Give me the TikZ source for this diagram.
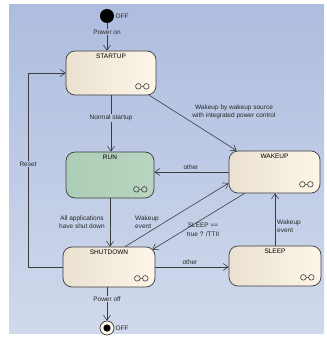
\documentclass[tikz,border=0pt]{standalone}
\usepackage{fontspec}
\setmainfont{Liberation Sans}
\usetikzlibrary{arrows.meta}

\definecolor{bgtop}{RGB}{174,189,223}
\definecolor{bgbot}{RGB}{208,217,236}
\definecolor{edgegray}{RGB}{60,60,60}
\definecolor{beigeL}{RGB}{234,225,209}
\definecolor{beigeR}{RGB}{253,246,232}
\definecolor{runL}{RGB}{172,205,182}
\definecolor{runR}{RGB}{184,213,192}

\tikzset{
  statebox/.style={draw=edgegray, line width=0.7pt, rounded corners=9pt,
    left color=beigeL, right color=beigeR, inner sep=0pt},
  title/.style={anchor=north, yshift=-2.5pt, inner sep=1pt,
    font=\fontsize{6.5}{7.5}\selectfont},
  lbl/.style={inner sep=1pt, align=center, text=black!85,
    font=\fontsize{6.5}{8.5}\selectfont},
  trans/.style={draw=edgegray, line width=0.6pt, ->},
  ringline/.style={draw=edgegray, line width=0.6pt},
}

% small twin ring icon in the lower right corner of a state
\newcommand{\twinrings}[1]{%
  \draw[ringline] ([xshift=-18pt,yshift=9pt]#1.south east) circle (2.8pt)
    ([xshift=-10pt,yshift=9pt]#1.south east) circle (2.8pt)
    ([xshift=-15.2pt,yshift=9pt]#1.south east) -- ([xshift=-12.8pt,yshift=9pt]#1.south east);}

\begin{document}
\begin{tikzpicture}[x=1pt,y=-1pt,>={Straight Barb[length=5pt,width=7pt]}]
    \useasboundingbox (0,0) rectangle (326,342);
    \fill[white] (0,0) rectangle (326,342);
    \shade[top color=bgtop,bottom color=bgbot] (9,5) rectangle (324,333);

    % states
    \node[statebox, minimum width=90pt, minimum height=44pt,
      label={[title]north:STARTUP}] (startup) at (111,73) {};
    \node[statebox, minimum width=88pt, minimum height=46pt,
      left color=runL, right color=runR,
      label={[title]north:RUN}] (run) at (110,175) {};
    \node[statebox, minimum width=92pt, minimum height=40pt,
      label={[title]north:SHUTDOWN}] (shutdown) at (109,267) {};
    \node[statebox, minimum width=91pt, minimum height=42pt,
      label={[title]north:WAKEUP}] (wakeup) at (274.5,172) {};
    \node[statebox, minimum width=92pt, minimum height=40pt,
      label={[title]north:SLEEP}] (sleep) at (275,266) {};

    \twinrings{startup}
    \twinrings{run}
    \twinrings{shutdown}
    \twinrings{wakeup}
    \twinrings{sleep}

    % initial and final
    \node[circle, fill=black, minimum size=14pt, inner sep=0pt] (init) at (107,16) {};
    \node[lbl, anchor=west] (offtop) at (114.5,16) {OFF};
    \node[circle, draw=edgegray, line width=0.7pt, fill=beigeR, minimum size=14pt,
      inner sep=0pt] (final) at (107,328) {};
    \fill[black] (final) circle (3.6pt);
    \node[lbl, anchor=west] (offbot) at (114.5,328) {OFF};

    % transitions
    \draw[trans] (init) -- (init |- startup.north)
      node[lbl, pos=0.32, fill=bgbot!8!bgtop] (lpoweron) {Power on};
    \draw[trans] (startup.south) -- (startup.south |- run.north)
      node[lbl, pos=0.4, fill=bgbot!34!bgtop] (lnormal) {Normal startup};
    \draw[trans] ([xshift=-7pt]startup.south east) -- ([xshift=8pt]wakeup.north west);
    \node[lbl] (lwakesrc) at (234,112) {Wakeup by wakeup source\\with integrated power control};

    \draw[trans] (wakeup.west) -- (wakeup.west -| run.east);
    \node[lbl] (lother1) at (191,167) {other};

    \draw[trans] (run.south) -- (run.south |- shutdown.north);
    \node[lbl] (lallapps) at (82,222) {All applications\\have shut down};

    \draw[trans] ([xshift=16pt]shutdown.north) -- ([yshift=-11pt]wakeup.west);
    \node[lbl, anchor=west, align=left] (lwake1) at (134,222) {Wakeup\\event};

    \draw[trans] ([xshift=16pt]wakeup.south west) -- ([xshift=-3pt,yshift=-3pt]shutdown.north east);
    \node[lbl] (lsleep) at (203,230) {SLEEP ==\\true ? /TTII};

    \draw[trans] (shutdown.east) -- (shutdown.east -| sleep.west);
    \node[lbl] (lother2) at (190,262) {other};

    \draw[trans] (sleep.north) -- (sleep.north |- wakeup.south);
    \node[lbl, anchor=west, align=left] (lwake2) at (276,226) {Wakeup\\event};

    \draw[trans] (final |- shutdown.south) -- (final)
      node[lbl, pos=0.35, fill=bgbot!90!bgtop] (lpoweroff) {Power off};

    \draw[trans] (shutdown.west) -| ([xshift=-37pt]startup.west) -- (startup.west);
    \node[lbl, fill=bgbot!48!bgtop] (lreset) at (28,164) {Reset};
\end{tikzpicture}
\end{document}
